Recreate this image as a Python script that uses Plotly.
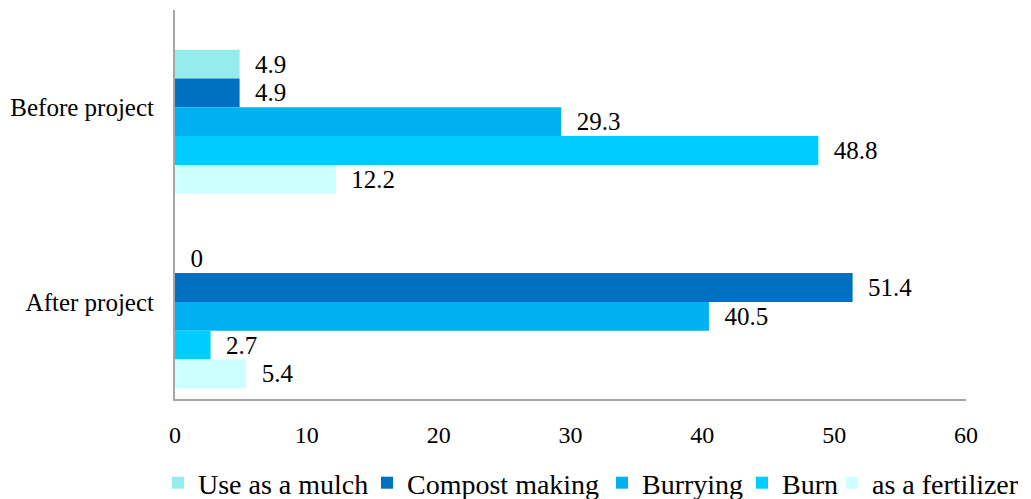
import plotly.graph_objects as go

# Residue management practices, share of respondents (%)
periods = ["Before project", "After project"]
practices = ["Use as a mulch", "Compost making", "Burrying", "Burn", "as a fertilizer"]
mulch = [4.9, 0]
compost = [4.9, 51.4]
burrying = [29.3, 40.5]
burn = [48.8, 2.7]
fertilizer = [12.2, 5.4]
x_ticks = [0, 10, 20, 30, 40, 50, 60]

series = [mulch, compost, burrying, burn, fertilizer]
colors = ["#95ECEC", "#0070C0", "#00B0F0", "#00CCFF", "#CCFFFF"]

SERIF = "Liberation Serif"
W, H = 1031, 499
bar_w = 0.148
first_offset = -0.296

# one single-entry legend per practice so the entries sit in a compact row
legend_left_px = [158, 367, 602, 742, 832]
legend_ids = ["legend", "legend2", "legend3", "legend4", "legend5"]

fig = go.Figure()
for i, (name, vals, col) in enumerate(zip(practices, series, colors)):
    fig.add_trace(go.Bar(
        y=periods,
        x=vals,
        name=name,
        orientation="h",
        marker=dict(color=col, line=dict(width=0)),
        width=bar_w,
        offset=first_offset + i * bar_w,
        text=vals,
        texttemplate="\u00a0\u00a0%{x}",
        textposition="outside",
        constraintext="none",
        cliponaxis=False,
        textfont=dict(family=SERIF, size=25, color="#000000"),
        legend=legend_ids[i],
    ))

legend_layout = {}
for lid, left in zip(legend_ids, legend_left_px):
    legend_layout[lid] = dict(
        orientation="h",
        xref="container",
        yref="container",
        x=left / W,
        xanchor="left",
        y=1 - 483 / H,
        yanchor="middle",
        font=dict(family=SERIF, size=28, color="#000000"),
        bgcolor="rgba(0,0,0,0)",
        itemwidth=30,
    )

fig.update_layout(
    width=W,
    height=H,
    margin=dict(l=175, r=65, t=10, b=97),
    paper_bgcolor="white",
    plot_bgcolor="white",
    barmode="overlay",
    font=dict(family=SERIF, color="#000000"),
    showlegend=True,
    xaxis=dict(
        range=[0, 60],
        tickvals=x_ticks,
        showgrid=False,
        zeroline=False,
        showline=True,
        linecolor="#A6A6A6",
        linewidth=2,
        ticks="",
        ticklabelstandoff=13,
        tickfont=dict(family=SERIF, size=24),
    ),
    yaxis=dict(
        type="category",
        categoryorder="array",
        categoryarray=periods,
        range=[1.5, -0.5],
        showgrid=False,
        zeroline=False,
        showline=True,
        linecolor="#A6A6A6",
        linewidth=2,
        ticks="",
        ticklabelstandoff=14,
        tickfont=dict(family=SERIF, size=25),
    ),
    **legend_layout,
)

fig.write_html("out.html")
